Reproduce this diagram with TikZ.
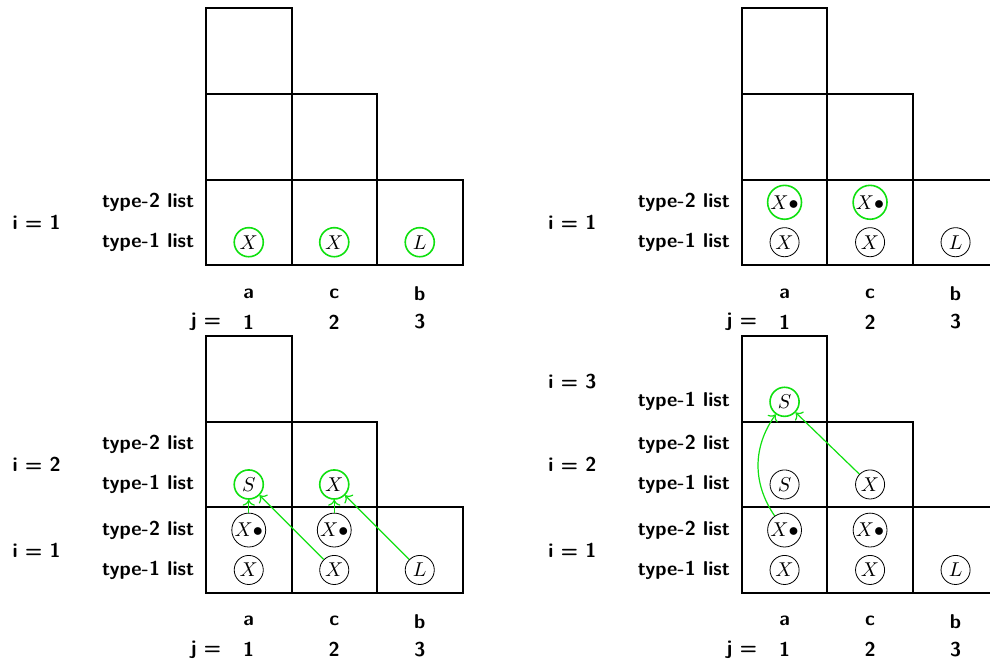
\documentclass[tikz,border=0pt]{standalone}
\usepackage{amsmath,amssymb}
\usepackage{xcolor}
\usetikzlibrary{arrows.meta,positioning}
\definecolor{newGreen}{HTML}{10E010}
% staircase of cells, column letters and the j row
\newcommand{\stairgrid}[1]{%
  \foreach \col/\nrows in {0/3,1/2,2/1}
    \foreach \row in {1,...,\nrows}
      \draw[cell] (1.5*\col,1.5*\row-1.5) rectangle ++(1.5,1.5);
  \foreach \lett/\num/\xx in {a/1/0.75,c/2/2.25,b/3/3.75}{
    \node[lbl] (#1-col\num) at (\xx,-0.5) {\lett};
    \node[lbl] (#1-j\num) at (\xx,-1) {\num};
  }
  \node[lbl] (#1-j) at (0,-1) {j =};
}

\begin{document}
\begin{tikzpicture}[
    lbl/.style={font=\sffamily\bfseries,inner sep=0pt},
    listlbl/.style={lbl,anchor=east},
    item/.style={circle,draw,inner sep=0.5pt,minimum size=0.51cm},
    newitem/.style={item,draw=newGreen,line width=0.8pt},
    link/.style={->,draw=newGreen,line width=0.6pt},
    cell/.style={line width=1pt}]
  \useasboundingbox (-3.614,-6.982) rectangle (13.754,4.649);

  % i = 1, type-1 lists filled
  \begin{scope}
    \stairgrid{p1}
    \node[lbl,anchor=west] (p1-i1) at (-3.4,0.75) {i = 1};
    \node[listlbl] (p1-r1t2) at (-0.2,1.1) {type-2 list};
    \node[listlbl] (p1-r1t1) at (-0.2,0.4) {type-1 list};
    \node[newitem] (p1-a1) at (0.75,0.4) {$X$};
    \node[newitem] (p1-c1) at (2.25,0.4) {$X$};
    \node[newitem] (p1-b1) at (3.75,0.4) {$L$};
  \end{scope}

  % i = 1, type-2 lists filled
  \begin{scope}[shift={(9.4,0)}]
    \stairgrid{p2}
    \node[lbl,anchor=west] (p2-i1) at (-3.4,0.75) {i = 1};
    \node[listlbl] (p2-r1t2) at (-0.2,1.1) {type-2 list};
    \node[listlbl] (p2-r1t1) at (-0.2,0.4) {type-1 list};
    \node[item] (p2-a1) at (0.75,0.4) {$X$};
    \node[item] (p2-c1) at (2.25,0.4) {$X$};
    \node[item] (p2-b1) at (3.75,0.4) {$L$};
    \node[newitem] (p2-a2) at (0.75,1.1) {$X\bullet$};
    \node[newitem] (p2-c2) at (2.25,1.1) {$X\bullet$};
  \end{scope}

  % i = 2
  \begin{scope}[shift={(0,-5.75)}]
    \stairgrid{p3}
    \node[lbl,anchor=west] (p3-i1) at (-3.4,0.75) {i = 1};
    \node[lbl,anchor=west] (p3-i2) at (-3.4,2.25) {i = 2};
    \node[listlbl] (p3-r1t2) at (-0.2,1.1) {type-2 list};
    \node[listlbl] (p3-r1t1) at (-0.2,0.4) {type-1 list};
    \node[listlbl] (p3-r2t2) at (-0.2,2.6) {type-2 list};
    \node[listlbl] (p3-r2t1) at (-0.2,1.9) {type-1 list};
    \node[item] (p3-a1) at (0.75,0.4) {$X$};
    \node[item] (p3-c1) at (2.25,0.4) {$X$};
    \node[item] (p3-b1) at (3.75,0.4) {$L$};
    \node[item] (p3-a2) at (0.75,1.1) {$X\bullet$};
    \node[item] (p3-c2) at (2.25,1.1) {$X\bullet$};
    \node[newitem] (p3-a3) at (0.75,1.9) {$S$};
    \node[newitem] (p3-c3) at (2.25,1.9) {$X$};
    \draw[link] (p3-a2)--(p3-a3);
    \draw[link] (p3-c1)--(p3-a3);
    \draw[link] (p3-c2)--(p3-c3);
    \draw[link] (p3-b1)--(p3-c3);
  \end{scope}

  % i = 3
  \begin{scope}[shift={(9.4,-5.75)}]
    \stairgrid{p4}
    \node[lbl,anchor=west] (p4-i1) at (-3.4,0.75) {i = 1};
    \node[lbl,anchor=west] (p4-i2) at (-3.4,2.25) {i = 2};
    \node[lbl,anchor=west] (p4-i3) at (-3.4,3.7) {i = 3};
    \node[listlbl] (p4-r1t2) at (-0.2,1.1) {type-2 list};
    \node[listlbl] (p4-r1t1) at (-0.2,0.4) {type-1 list};
    \node[listlbl] (p4-r2t2) at (-0.2,2.6) {type-2 list};
    \node[listlbl] (p4-r2t1) at (-0.2,1.9) {type-1 list};
    \node[listlbl] (p4-r3t1) at (-0.2,3.35) {type-1 list};
    \node[item] (p4-a1) at (0.75,0.4) {$X$};
    \node[item] (p4-c1) at (2.25,0.4) {$X$};
    \node[item] (p4-b1) at (3.75,0.4) {$L$};
    \node[item] (p4-a2) at (0.75,1.1) {$X\bullet$};
    \node[item] (p4-c2) at (2.25,1.1) {$X\bullet$};
    \node[item] (p4-a3) at (0.75,1.9) {$S$};
    \node[item] (p4-c3) at (2.25,1.9) {$X$};
    \node[newitem] (p4-a4) at (0.75,3.35) {$S$};
    \draw[link] (p4-a2) to[bend left=35] (p4-a4);
    \draw[link] (p4-c3)--(p4-a4);
  \end{scope}
\end{tikzpicture}
\end{document}
